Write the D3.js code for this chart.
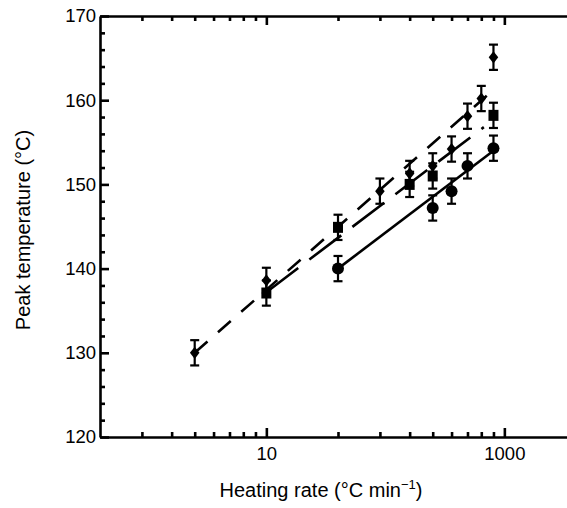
<!DOCTYPE html>
<html>
<head>
<meta charset="utf-8">
<script src="https://cdn.jsdelivr.net/npm/d3@7"></script>
<style>
  html, body { margin: 0; padding: 0; background: #fff; }
  svg { display: block; font-family: "Liberation Sans", Arial, Helvetica, sans-serif; }
</style>
</head>
<body>
<svg id="chart" width="567" height="508"></svg>
<script>
// ---- data ----
const xMajorTicks = [10, 100];
const xTickLabels = ["10", "1000"];
const yMajorTicks = [120, 130, 140, 150, 160, 170];
const yTickLabels = ["120", "130", "140", "150", "160", "170"];

const diamondRates = [5, 10, 30, 40, 50, 60, 70, 80, 90];
const diamondTemps = [130.0, 138.6, 149.2, 151.3, 152.2, 154.2, 158.1, 160.2, 165.1];

const squareRates = [10, 20, 40, 50, 90];
const squareTemps = [137.1, 144.9, 150.0, 151.0, 158.2];

const circleRates = [20, 50, 60, 70, 90];
const circleTemps = [140.0, 147.2, 149.2, 152.2, 154.3];

const errorHalf = 1.5;

const fitDiamondRates = [5, 85];
const fitDiamondTemps = [130.0, 160.6];
const fitSquareRates = [10, 82];
const fitSquareTemps = [137.2, 156.8];
const fitCircleRates = [20, 90];
const fitCircleTemps = [140.0, 154.0];

// ---- layout ----
const svg = d3.select("#chart");
const pLeft = 100, pTop = 16, pBottom = 437, pRight = 576;

const x = d3.scaleLog().domain([2, 200]).range([pLeft, pRight]);
const y = d3.scaleLinear().domain([120, 170]).range([pBottom, pTop]);

const xMinor = [];
[1, 10, 100].forEach(d => { for (let k = 2; k <= 9; k++) { const v = d * k; if (v > 2 && v < 200) xMinor.push(v); } });
const yMinor = d3.range(122, 170, 2).filter(v => v % 10 !== 0);

const axisStroke = 2.6;

function styleAxis(g) {
  g.selectAll("path.domain").attr("stroke", "#000").attr("stroke-width", axisStroke);
  g.selectAll(".tick line").attr("stroke", "#000").attr("stroke-width", axisStroke);
  g.selectAll(".tick text").attr("fill", "#000").attr("font-size", 18.5)
    .attr("font-family", '"Liberation Sans", Arial, Helvetica, sans-serif');
}

// bottom axis
const gb = svg.append("g").attr("transform", `translate(0,${pBottom})`)
  .call(d3.axisBottom(x).tickValues(xMajorTicks).tickSizeInner(-9).tickSizeOuter(0).tickPadding(10)
    .tickFormat((d, i) => xTickLabels[i]));
styleAxis(gb);
svg.append("g").attr("transform", `translate(0,${pBottom})`)
  .call(d3.axisBottom(x).tickValues(xMinor).tickSizeInner(-5).tickSizeOuter(0).tickFormat(""))
  .call(g => { g.select("path.domain").remove(); styleAxis(g); });

// top axis (mirror)
const gt = svg.append("g").attr("transform", `translate(0,${pTop})`)
  .call(d3.axisTop(x).tickValues(xMajorTicks).tickSizeInner(-9).tickSizeOuter(0).tickFormat(""));
styleAxis(gt);
svg.append("g").attr("transform", `translate(0,${pTop})`)
  .call(d3.axisTop(x).tickValues(xMinor).tickSizeInner(-5).tickSizeOuter(0).tickFormat(""))
  .call(g => { g.select("path.domain").remove(); styleAxis(g); });

// left axis
const gl = svg.append("g").attr("transform", `translate(${pLeft},0)`)
  .call(d3.axisLeft(y).tickValues(yMajorTicks).tickSizeInner(-9).tickSizeOuter(0).tickPadding(4)
    .tickFormat((d, i) => yTickLabels[i]));
styleAxis(gl);
svg.append("g").attr("transform", `translate(${pLeft},0)`)
  .call(d3.axisLeft(y).tickValues(yMinor).tickSizeInner(-5).tickSizeOuter(0).tickFormat(""))
  .call(g => { g.select("path.domain").remove(); styleAxis(g); });

// axis titles
svg.append("text")
  .attr("x", 321).attr("y", 497)
  .attr("text-anchor", "middle").attr("font-size", 20).attr("fill", "#000")
  .call(t => {
    t.append("tspan").text("Heating rate (°C min");
    t.append("tspan").attr("dy", -8).attr("font-size", 13).text("−1");
    t.append("tspan").attr("dy", 8).text(")");
  });

svg.append("text")
  .attr("transform", "translate(30,230) rotate(-90)")
  .attr("text-anchor", "middle").attr("font-size", 20).attr("fill", "#000")
  .text("Peak temperature (°C)");

// ---- fit lines ----
const line = d3.line().x(d => x(d[0])).y(d => y(d[1]));
function fit(rates, temps) { return rates.map((r, i) => [r, temps[i]]); }

svg.append("path").datum(fit(fitDiamondRates, fitDiamondTemps))
  .attr("d", line).attr("fill", "none").attr("stroke", "#000").attr("stroke-width", 2.6)
  .attr("stroke-dasharray", "17,14");
svg.append("path").datum(fit(fitSquareRates, fitSquareTemps))
  .attr("d", line).attr("fill", "none").attr("stroke", "#000").attr("stroke-width", 2.6)
  .attr("stroke-dasharray", "40,14");
svg.append("path").datum(fit(fitCircleRates, fitCircleTemps))
  .attr("d", line).attr("fill", "none").attr("stroke", "#000").attr("stroke-width", 2.6);

// ---- error bars and markers ----
function errorBars(rates, temps) {
  const g = svg.append("g").attr("stroke", "#000").attr("stroke-width", 2.2);
  rates.forEach((r, i) => {
    const cx = x(r), y1 = y(temps[i] - errorHalf), y2 = y(temps[i] + errorHalf);
    g.append("line").attr("x1", cx).attr("x2", cx).attr("y1", y1).attr("y2", y2);
    g.append("line").attr("x1", cx - 4.5).attr("x2", cx + 4.5).attr("y1", y1).attr("y2", y1);
    g.append("line").attr("x1", cx - 4.5).attr("x2", cx + 4.5).attr("y1", y2).attr("y2", y2);
  });
}
errorBars(diamondRates, diamondTemps);
errorBars(squareRates, squareTemps);
errorBars(circleRates, circleTemps);

const diamondType = {
  draw(ctx, size) {
    const h = Math.sqrt(size) * 0.68, w = h * 0.78;
    ctx.moveTo(0, -h); ctx.lineTo(w, 0); ctx.lineTo(0, h); ctx.lineTo(-w, 0); ctx.closePath();
  }
};

svg.append("g").selectAll("path").data(diamondRates.map((r, i) => [r, diamondTemps[i]]))
  .join("path")
  .attr("transform", d => `translate(${x(d[0])},${y(d[1])})`)
  .attr("d", d3.symbol().type(diamondType).size(81)).attr("fill", "#000");

svg.append("g").selectAll("rect").data(squareRates.map((r, i) => [r, squareTemps[i]]))
  .join("rect")
  .attr("x", d => x(d[0]) - 5).attr("y", d => y(d[1]) - 5.5)
  .attr("width", 10).attr("height", 11).attr("fill", "#000");

svg.append("g").selectAll("circle").data(circleRates.map((r, i) => [r, circleTemps[i]]))
  .join("circle")
  .attr("cx", d => x(d[0])).attr("cy", d => y(d[1])).attr("r", 6).attr("fill", "#000");
</script>
</body>
</html>
